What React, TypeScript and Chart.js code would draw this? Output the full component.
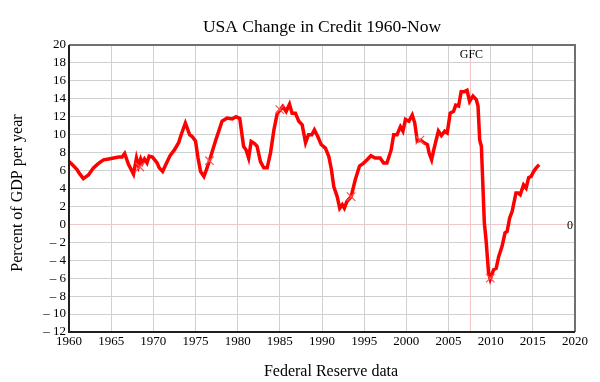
import React, { useEffect, useRef } from "react";
import { Chart, registerables } from "chart.js";

Chart.register(...registerables);

const years: number[] = [
  1960.0, 1960.35, 1960.95, 1961.3, 1961.7, 1962.3, 1962.9, 1963.5, 1964.1, 1964.7,
  1965.3, 1965.9, 1966.3, 1966.6, 1967.05, 1967.65, 1968.0, 1968.25, 1968.5, 1968.7,
  1968.95, 1969.25, 1969.5, 1969.9, 1970.45, 1970.7, 1971.1, 1971.4, 1972.0, 1972.5,
  1973.0, 1973.3, 1973.8, 1974.3, 1974.6, 1975.0, 1975.3, 1975.6, 1976.0, 1976.3,
  1976.65, 1977.35, 1978.15, 1978.75, 1979.35, 1979.8, 1980.25, 1980.7, 1981.0, 1981.3,
  1981.6, 1982.0, 1982.3, 1982.7, 1983.1, 1983.5, 1983.9, 1984.3, 1984.7, 1985.1,
  1985.35, 1985.75, 1986.15, 1986.45, 1986.85, 1987.25, 1987.65, 1988.05, 1988.4, 1988.8,
  1989.1, 1989.5, 1989.9, 1990.4, 1990.8, 1991.1, 1991.4, 1991.8, 1992.1, 1992.4,
  1992.65, 1992.95, 1993.45, 1993.95, 1994.45, 1994.9, 1995.35, 1995.8, 1996.3, 1996.9,
  1997.3, 1997.7, 1998.2, 1998.5, 1998.9, 1999.3, 1999.6, 1999.9, 2000.3, 2000.7,
  2001.0, 2001.3, 2001.7, 2002.1, 2002.5, 2002.7, 2003.0, 2003.25, 2003.8, 2004.15,
  2004.55, 2004.85, 2005.2, 2005.6, 2005.85, 2006.2, 2006.5, 2006.9, 2007.2, 2007.5,
  2007.9, 2008.3, 2008.5, 2008.7, 2008.9, 2009.05, 2009.25, 2009.45, 2009.75, 2009.95,
  2010.35, 2010.65, 2010.95, 2011.35, 2011.7, 2011.95, 2012.25, 2012.55, 2013.0, 2013.25,
  2013.5, 2013.9, 2014.2, 2014.5, 2014.8, 2015.1, 2015.4, 2015.75,
];

const creditChange: number[] = [
  7.0, 6.7, 6.1, 5.6, 5.1, 5.5, 6.3, 6.8, 7.2, 7.3,
  7.4, 7.5, 7.5, 7.9, 6.7, 5.6, 7.4, 6.5, 7.3, 6.85,
  7.3, 6.85, 7.6, 7.5, 6.85, 6.3, 5.9, 6.5, 7.7, 8.3,
  9.1, 10.0, 11.3, 10.0, 9.8, 9.3, 7.4, 5.9, 5.35, 6.1,
  7.1, 9.25, 11.5, 11.85, 11.75, 12.0, 11.8, 8.7, 8.3, 7.4,
  9.25, 9.0, 8.7, 7.0, 6.3, 6.3, 8.0, 10.55, 12.4, 12.8,
  13.15, 12.6, 13.4, 12.4, 12.4, 11.5, 11.1, 9.1, 10.0, 10.0,
  10.55, 9.8, 8.9, 8.5, 7.6, 6.2, 4.2, 3.1, 1.8, 2.2,
  1.8, 2.55, 3.1, 5.0, 6.5, 6.8, 7.2, 7.65, 7.4, 7.4,
  6.85, 6.85, 8.3, 10.0, 10.0, 10.9, 10.4, 11.7, 11.5, 12.2,
  11.3, 9.3, 9.4, 9.1, 8.9, 7.95, 7.2, 8.3, 10.4, 9.9,
  10.4, 10.2, 12.4, 12.6, 13.3, 13.2, 14.8, 14.8, 14.95, 13.7,
  14.3, 13.9, 13.2, 9.4, 8.7, 5.0, 0.15, -1.7, -5.4, -6.1,
  -5.05, -4.9, -3.6, -2.45, -0.95, -0.8, 0.7, 1.45, 3.5, 3.5,
  3.3, 4.4, 4.05, 5.2, 5.35, 5.9, 6.3, 6.65,
];

const markerYears: number[] = [1968.4, 1976.65, 1985.0, 1993.45, 2001.6, 2009.95];
const markerValues: number[] = [6.4, 7.1, 12.8, 3.1, 9.4, -6.0];

const gfcYear = 2007.6;
const chartTitle = "USA Change in Credit 1960-Now";
const yTitle = "Percent of GDP per year";
const xTitle = "Federal Reserve data";
const gfcLabel = "GFC";
const zeroLabel = "0";

const FONT = "'Liberation Serif', 'Times New Roman', serif";

export default function App() {
  const ref = useRef<HTMLCanvasElement | null>(null);

  useEffect(() => {
    if (!ref.current) return;

    const decor = {
      id: "decor",
      beforeDatasetsDraw(chart: any) {
        const { ctx, chartArea } = chart;
        const xs = chart.scales.x;
        const gx = xs.getPixelForValue(gfcYear);
        ctx.save();
        ctx.strokeStyle = "#f4c4c4";
        ctx.lineWidth = 1;
        ctx.beginPath();
        ctx.moveTo(gx, chartArea.top);
        ctx.lineTo(gx, chartArea.bottom);
        ctx.stroke();
        ctx.restore();
      },
      afterDraw(chart: any) {
        const { ctx, chartArea } = chart;
        const xs = chart.scales.x;
        const ys = chart.scales.y;
        ctx.save();
        ctx.lineWidth = 2;
        ctx.strokeStyle = "#707070";
        ctx.beginPath();
        ctx.moveTo(chartArea.left, chartArea.top);
        ctx.lineTo(chartArea.right, chartArea.top);
        ctx.lineTo(chartArea.right, chartArea.bottom);
        ctx.stroke();
        ctx.strokeStyle = "#202020";
        ctx.beginPath();
        ctx.moveTo(chartArea.left, chartArea.top);
        ctx.lineTo(chartArea.left, chartArea.bottom);
        ctx.lineTo(chartArea.right, chartArea.bottom);
        ctx.stroke();

        ctx.fillStyle = "#000";
        ctx.textAlign = "center";
        ctx.textBaseline = "middle";
        ctx.font = `17.5px ${FONT}`;
        ctx.fillText(chartTitle, (chartArea.left + chartArea.right) / 2, 27);

        ctx.font = `16px ${FONT}`;
        ctx.fillText(xTitle, 331, 372);

        ctx.save();
        ctx.translate(18, 193);
        ctx.rotate(-Math.PI / 2);
        ctx.fillText(yTitle, 0, 0);
        ctx.restore();

        ctx.font = `12px ${FONT}`;
        ctx.fillText(gfcLabel, xs.getPixelForValue(gfcYear) + 1, 55);
        ctx.fillText(zeroLabel, 570, ys.getPixelForValue(0) + 1);
        ctx.restore();
      },
    };

    const chart = new Chart(ref.current, {
      type: "line",
      data: {
        datasets: [
          {
            type: "line",
            data: years.map((x, i) => ({ x, y: creditChange[i] })),
            borderColor: "#ff0000",
            borderWidth: 3.5,
            pointRadius: 0,
            tension: 0,
            fill: false,
            order: 2,
          },
          {
            type: "scatter",
            data: markerYears.map((x, i) => ({ x, y: markerValues[i] })),
            pointStyle: "crossRot",
            pointRadius: 6,
            borderColor: "#ff5050",
            borderWidth: 1.2,
            backgroundColor: "#ff5050",
            order: 1,
          } as any,
        ],
      },
      options: {
        responsive: false,
        animation: false,
        layout: { padding: { left: 0, top: 45, right: 25, bottom: 0 } },
        plugins: {
          legend: { display: false },
          tooltip: { enabled: false },
          title: { display: false },
        },
        scales: {
          x: {
            type: "linear",
            min: 1960,
            max: 2020,
            afterFit(scale: any) {
              scale.height = 50;
            },
            ticks: {
              stepSize: 5,
              autoSkip: false,
              color: "#000",
              font: { family: FONT, size: 13 },
              padding: 2,
              maxRotation: 0,
              callback: (v: any) => String(v),
            },
            grid: { color: "#d0d0d0", lineWidth: 1, drawTicks: false },
            border: { display: false },
          },
          y: {
            type: "linear",
            min: -12,
            max: 20,
            afterFit(scale: any) {
              scale.width = 69;
            },
            ticks: {
              stepSize: 2,
              autoSkip: false,
              color: "#000",
              font: { family: FONT, size: 13 },
              padding: 3,
              callback: (v: any) => (Number(v) < 0 ? "\u2013 " + Math.abs(Number(v)) : String(v)),
            },
            grid: {
              color: (c: any) => (c.tick && c.tick.value === 0 ? "#f0c8c8" : "#d0d0d0"),
              lineWidth: 1,
              drawTicks: false,
            },
            border: { display: false },
          },
        },
      },
      plugins: [decor],
    } as any);

    return () => chart.destroy();
  }, []);

  return (
    <canvas
      ref={ref}
      width={600}
      height={382}
      style={{ position: "absolute", left: 0, top: 0, display: "block" }}
    />
  );
}
